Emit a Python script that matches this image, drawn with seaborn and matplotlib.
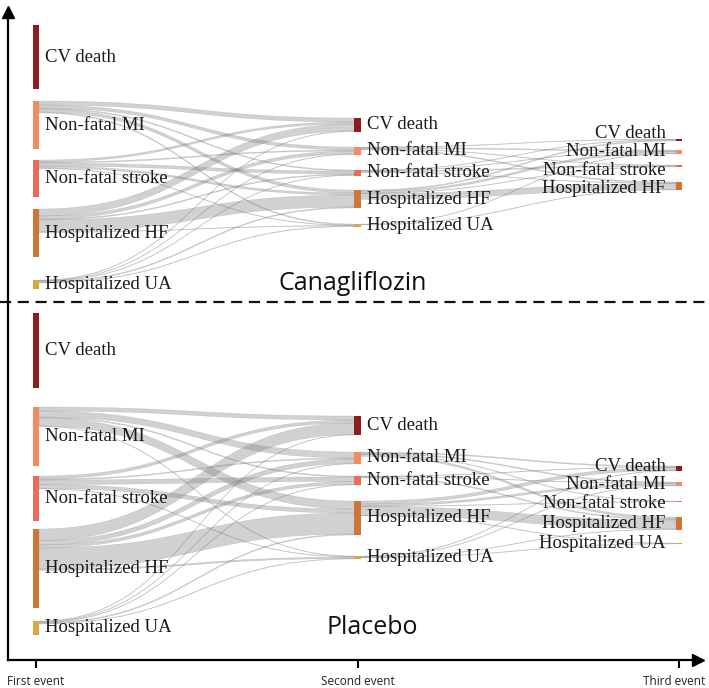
import numpy as np
import pandas as pd
import matplotlib.pyplot as plt
from matplotlib.path import Path
from matplotlib.patches import PathPatch
import seaborn as sns

events = ['CV death', 'Non-fatal MI', 'Non-fatal stroke', 'Hospitalized HF', 'Hospitalized UA']
stages = ['First event', 'Second event', 'Third event']
arms = ['Canagliflozin', 'Placebo']

# patients by first event
cana_first = [128, 96, 74, 96, 18]
plac_first = [150, 118, 90, 158, 28]

# transitions: rows = from event, cols = to event (order as in `events`)
cana_1to2 = [[0, 0, 0, 0, 0],
             [8, 6, 2, 6, 2],
             [4, 2, 6, 4, 1],
             [14, 6, 2, 24, 1],
             [1, 1, 1, 2, 1]]
cana_2to3 = [[0, 0, 0, 0, 0],
             [1, 2, 1, 2, 0],
             [1, 1, 2, 1, 0],
             [2, 4, 1, 12, 0],
             [0, 1, 0, 1, 0]]
plac_1to2 = [[0, 0, 0, 0, 0],
             [8, 12, 2, 16, 1],
             [6, 2, 9, 8, 1],
             [23, 9, 6, 42, 3],
             [1, 1, 1, 2, 1]]
plac_2to3 = [[0, 0, 0, 0, 0],
             [2, 2, 1, 4, 0],
             [1, 1, 0, 2, 0],
             [6, 4, 1, 18, 1],
             [1, 1, 0, 1, 1]]

node_colors = ['#8e1b1e', '#f28a63', '#ec6a5b', '#cf7535', '#d8a83c']

# stacking of each column: top of the stack and gaps between nodes
layout = {
    'Canagliflozin': {'top': [40, 226, 268],
                      'pad': [[24, 22, 24, 46], [31, 31, 29, 32], [18, 22, 30]],
                      'label_xy': (0.985, 556)},
    'Placebo': {'top': [616, 822, 922],
                'pad': [[38, 20, 16, 26], [34, 24, 32, 42], [22, 30, 30, 27]],
                'label_xy': (1.045, 1246)},
}

data = {
    'Canagliflozin': (cana_first, cana_1to2, cana_2to3),
    'Placebo': (plac_first, plac_1to2, plac_2to3),
}

sns.set_theme(style='white')
plt.rcParams['font.family'] = ['Liberation Serif', 'DejaVu Serif']

fig = plt.figure(figsize=(7.09, 6.88), dpi=100)
ax = fig.add_axes([8 / 709, 28 / 688, 690 / 709, 648 / 688])
ax.set_xlim((8 - 36) / 321.5, (698 - 36) / 321.5)
ax.set_ylim(1310, 14)

node_w = 0.0187
link_color = (0.5, 0.5, 0.5, 0.36)


def band(ax, x0, x1, y0, y1, w):
    xm = (x0 + x1) / 2
    verts = [(x0, y0), (xm, y0), (xm, y1), (x1, y1),
             (x1, y1 + w), (xm, y1 + w), (xm, y0 + w), (x0, y0 + w), (x0, y0)]
    codes = [Path.MOVETO, Path.CURVE4, Path.CURVE4, Path.CURVE4,
             Path.LINETO, Path.CURVE4, Path.CURVE4, Path.CURVE4, Path.CLOSEPOLY]
    ax.add_patch(PathPatch(Path(verts, codes), facecolor=link_color,
                           edgecolor=link_color, lw=0.3))


def spread(ys, gap):
    # push label centres apart so neighbouring labels do not collide
    ys = list(ys)
    for _ in range(60):
        for a in range(len(ys) - 1):
            d = ys[a + 1] - ys[a]
            if d < gap:
                ys[a] -= (gap - d) / 2
                ys[a + 1] += (gap - d) / 2
    return ys


for arm in arms:
    first, m12, m23 = data[arm]
    m12 = np.array(m12)
    m23 = np.array(m23)
    sizes = [np.array(first), m12.sum(axis=0), m23.sum(axis=0)]
    sizes[1] = np.maximum(sizes[1], m23.sum(axis=1))

    # node positions
    tops = []
    for c in range(3):
        y = layout[arm]['top'][c]
        gaps = iter(layout[arm]['pad'][c])
        col_tops = []
        for s in sizes[c]:
            col_tops.append(y)
            if s > 0:
                y += s + next(gaps, 0)
        tops.append(col_tops)

    # links
    for c, m in enumerate([m12, m23]):
        out_off = list(tops[c])
        in_off = list(tops[c + 1])
        links = pd.DataFrame([(i, j, m[i, j]) for i in range(5) for j in range(5) if m[i, j] > 0],
                             columns=['src', 'tgt', 'value'])
        y_out = {}
        for i in range(5):
            for _, r in links[links.src == i].sort_values('tgt').iterrows():
                y_out[(r.src, r.tgt)] = out_off[i]
                out_off[i] += r.value
        y_in = {}
        for j in range(5):
            for _, r in links[links.tgt == j].sort_values('src').iterrows():
                y_in[(r.src, r.tgt)] = in_off[j]
                in_off[j] += r.value
        for _, r in links.iterrows():
            band(ax, c + node_w / 2, c + 1 - node_w / 2,
                 y_out[(r.src, r.tgt)], y_in[(r.src, r.tgt)], r.value)

    # nodes and labels
    for c in range(3):
        ks = [k for k in range(5) if sizes[c][k] > 0]
        centres = [tops[c][k] + sizes[c][k] / 2 for k in ks]
        if c == 2:
            centres = spread(centres, 37)
        for k, yc in zip(ks, centres):
            ax.bar(c, sizes[c][k], bottom=tops[c][k], width=node_w, color=node_colors[k],
                   edgecolor='none', zorder=3)
            if c < 2:
                ax.text(c + node_w / 2 + 0.019, yc, events[k], ha='left', va='center',
                        fontsize=13.5, color='#1a1a1a', zorder=4)
            else:
                ax.text(c - node_w / 2 - 0.033, yc, events[k], ha='right', va='center',
                        fontsize=13.5, color='#1a1a1a', zorder=4)

    lx, ly = layout[arm]['label_xy']
    ax.text(lx, ly, arm, ha='center', va='center', fontsize=18,
            family=['Open Sans', 'DejaVu Sans'], color='#111111')

# separator between arms
ax.plot([(0 - 36) / 321.5, (709 - 36) / 321.5], [594, 594], color='#111111',
        lw=1.6, ls=(0, (5, 3)), clip_on=False)

# axes with arrows
for side in ['top', 'right']:
    ax.spines[side].set_visible(False)
for side in ['left', 'bottom']:
    ax.spines[side].set_color('black')
    ax.spines[side].set_linewidth(1.6)
ax.plot(0, 1, marker='^', ms=9, color='black', transform=ax.transAxes, clip_on=False)
ax.plot(1, 0, marker='>', ms=9, color='black', transform=ax.transAxes, clip_on=False)

ax.set_xticks([0, 1, 2])
ax.set_xticklabels([])
ax.tick_params(axis='x', bottom=True, direction='out', length=6, width=1.5, color='black')
ax.set_yticks([])
ax.grid(False)
label_shift = [0, 0, -0.016]
for i, st in enumerate(stages):
    ax.text(i + label_shift[i], -0.033, st, transform=ax.get_xaxis_transform(),
            ha='center', va='center', fontsize=8.5, color='#222222',
            family=['Open Sans', 'DejaVu Sans'])

plt.savefig('out.png', dpi=100)
